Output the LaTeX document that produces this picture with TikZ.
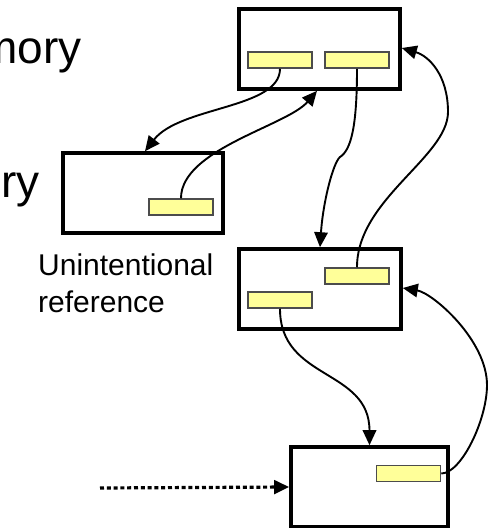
\documentclass[tikz,border=0pt]{standalone}
\usepackage{fontspec}
\setmainfont{Liberation Sans}
\usetikzlibrary{arrows.meta}
\definecolor{fieldfill}{HTML}{FFFF99}
\begin{document}
\begin{tikzpicture}[x=1pt,y=-1pt,
  objbox/.style={draw=black, line width=3.6pt, fill=white, inner sep=0pt},
  field/.style={draw=black!70, line width=1.5pt, fill=fieldfill,
    minimum width=64pt, minimum height=16pt, inner sep=0pt},
  ref/.style={line width=1.9pt, -{Triangle[length=15pt,width=13.5pt]}},
  weakref/.style={line width=3.2pt, dash pattern=on 4pt off 2.8pt,
    -{Triangle[length=15pt,width=13.5pt]}},
  bigtext/.style={font=\fontsize{46}{54}\selectfont, inner sep=0pt},
  note/.style={font=\fontsize{30}{36.7}\selectfont, inner sep=0pt, align=left},
  ]
\useasboundingbox (0,0) rectangle (491,528);

% objects
\node[objbox, minimum width=161pt, minimum height=80pt] (top) at (319.5,49) {};
\node[objbox, minimum width=160pt, minimum height=80pt] (lb)  at (143,193) {};
\node[objbox, minimum width=162pt, minimum height=80pt] (mb)  at (320,289) {};
\node[objbox, minimum width=157pt, minimum height=80pt] (bb)  at (369.5,487) {};

% reference fields
\node[field] (t1) at (280,60) {};
\node[field] (t2) at (357,60) {};
\node[field] (l1) at (181,207) {};
\node[field] (m1) at (357,276) {};
\node[field] (m2) at (280,300) {};
\node[field] (b1) at (408.5,473.5) {};

% labels
\node[bigtext, anchor=base east] (memlabel) at (82,63) {mory};
\node[bigtext, anchor=base east] (rylabel) at (40,197) {ry};
\node[note, anchor=base west] (unint) at (38,312) {Unintentional\\reference};

% waypoints of the long references
\coordinate (kink) at (340,157);
\coordinate (loopA) at (448,112);
\coordinate (loopB) at (487,385);
\coordinate (dotstart) at (100,488);

% references
\draw[ref] (t1.south) .. controls +(0,40) and +(35,-45) .. ([xshift=2pt]lb.north);
\draw[ref] (l1.north) .. controls +(0,-49) and +(-30,35) .. ([xshift=-2.5pt]top.south);
\draw[ref] (t2.south) .. controls +(0,58) and +(11,-7) .. (kink)
  .. controls +(-7,6) and +(3,-45) .. (mb.north);
\draw[ref] (m1.north) .. controls +(0,-68) and +(0,45) .. (loopA)
  .. controls +(0,-37) and +(27,8) .. ([yshift=1pt]top.east);
\draw[ref] (m2.south) .. controls +(0,72) and +(0,-77) .. (bb.north);
\draw[ref] (b1.east) .. controls +(20,0) and +(0,35) .. (loopB)
  .. controls +(0,-45) and +(30,5) .. ([yshift=1pt]mb.east);
\draw[weakref] (dotstart) -- (bb.west);
\end{tikzpicture}
\end{document}
